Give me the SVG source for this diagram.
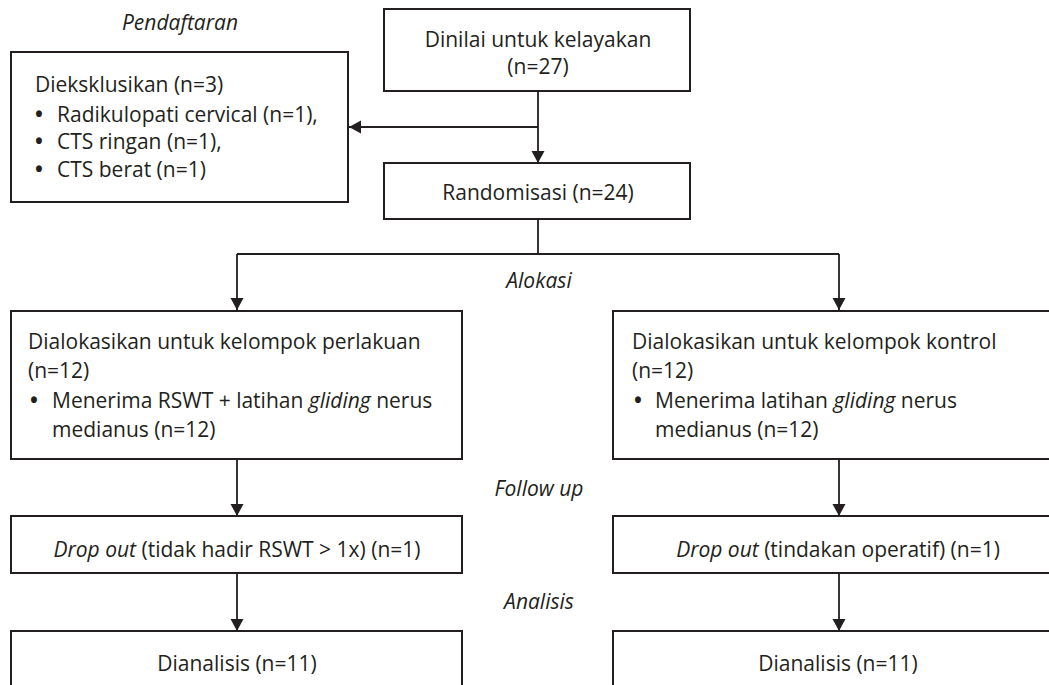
<svg xmlns="http://www.w3.org/2000/svg" width="1049" height="685" viewBox="0 0 1049 685">
<defs>
<marker id="arr" markerWidth="14" markerHeight="14" refX="12" refY="6.5" orient="auto" markerUnits="userSpaceOnUse">
<path d="M0,0 L12,6.5 L0,13 Z" fill="#231f20"/>
</marker>
<style>
.box{fill:#fff;stroke:#231f20;stroke-width:2}
.t{font-family:"Open Sans","Liberation Sans",sans-serif;font-size:21px;fill:#231f20}
.b{font-weight:bold}
.c{text-anchor:middle}
.i{font-style:italic}
.ln{fill:none;stroke:#231f20;stroke-width:1.8}
</style>
</defs>
<rect width="1049" height="685" fill="#fff"/>

<g id="labels">
<text class="t c i" x="180" y="30">Pendaftaran</text>
<text class="t c i" x="539" y="288">Alokasi</text>
<text class="t c i" x="539" y="496">Follow up</text>
<text class="t c i" x="539" y="609">Analisis</text>
</g>

<g id="connectors">
<line class="ln" x1="538" y1="91" x2="538" y2="163" marker-end="url(#arr)"/>
<line class="ln" x1="538" y1="127" x2="349" y2="127" marker-end="url(#arr)"/>
<polyline class="ln" points="538,219 538,254"/>
<polyline class="ln" points="237,254 839,254"/>
<line class="ln" x1="237" y1="254" x2="237" y2="310" marker-end="url(#arr)"/>
<line class="ln" x1="839" y1="254" x2="839" y2="310" marker-end="url(#arr)"/>
<line class="ln" x1="237" y1="459" x2="237" y2="516" marker-end="url(#arr)"/>
<line class="ln" x1="839" y1="459" x2="839" y2="516" marker-end="url(#arr)"/>
<line class="ln" x1="237" y1="573" x2="237" y2="631" marker-end="url(#arr)"/>
<line class="ln" x1="839" y1="573" x2="839" y2="631" marker-end="url(#arr)"/>
</g>

<g id="dinilai">
<rect class="box" x="384" y="9" width="306" height="82"/>
<text class="t c" x="538" y="47">Dinilai untuk kelayakan</text>
<text class="t c" x="538" y="74">(n=27)</text>
</g>

<g id="dieksklusikan">
<rect class="box" x="11" y="52" width="337" height="150"/>
<text class="t" x="35" y="92">Dieksklusikan (n=3)</text>
<text class="t" x="35" y="122"><tspan class="b">•</tspan><tspan x="57">Radikulopati cervical (n=1),</tspan></text>
<text class="t" x="35" y="149"><tspan class="b">•</tspan><tspan x="57">CTS ringan (n=1),</tspan></text>
<text class="t" x="35" y="177"><tspan class="b">•</tspan><tspan x="57">CTS berat (n=1)</tspan></text>
</g>

<g id="randomisasi">
<rect class="box" x="384" y="163" width="306" height="56"/>
<text class="t c" x="538" y="200">Randomisasi (n=24)</text>
</g>

<g id="perlakuan">
<rect class="box" x="11" y="311" width="451" height="148"/>
<text class="t" x="28" y="349">Dialokasikan untuk kelompok perlakuan</text>
<text class="t" x="28" y="378">(n=12)</text>
<text class="t" x="30" y="408"><tspan class="b">•</tspan><tspan x="52">Menerima RSWT + latihan </tspan><tspan class="i">gliding</tspan> nerus</text>
<text class="t" x="52" y="437">medianus (n=12)</text>
</g>

<g id="kontrol">
<rect class="box" x="613" y="311" width="451" height="148"/>
<text class="t" x="632" y="349">Dialokasikan untuk kelompok kontrol</text>
<text class="t" x="632" y="378">(n=12)</text>
<text class="t" x="634" y="408"><tspan class="b">•</tspan><tspan x="655">Menerima latihan </tspan><tspan class="i">gliding</tspan> nerus</text>
<text class="t" x="655" y="437">medianus (n=12)</text>
</g>

<g id="dropout-left">
<rect class="box" x="11" y="516" width="451" height="57"/>
<text class="t c" x="237" y="557"><tspan class="i">Drop out</tspan> (tidak hadir RSWT &gt; 1x) (n=1)</text>
</g>

<g id="dropout-right">
<rect class="box" x="613" y="516" width="451" height="57"/>
<text class="t c" x="838" y="557"><tspan class="i">Drop out</tspan> (tindakan operatif) (n=1)</text>
</g>

<g id="analisis-left">
<rect class="box" x="11" y="631" width="451" height="70"/>
<text class="t c" x="237" y="671">Dianalisis (n=11)</text>
</g>

<g id="analisis-right">
<rect class="box" x="613" y="631" width="451" height="70"/>
<text class="t c" x="838" y="671">Dianalisis (n=11)</text>
</g>
</svg>
